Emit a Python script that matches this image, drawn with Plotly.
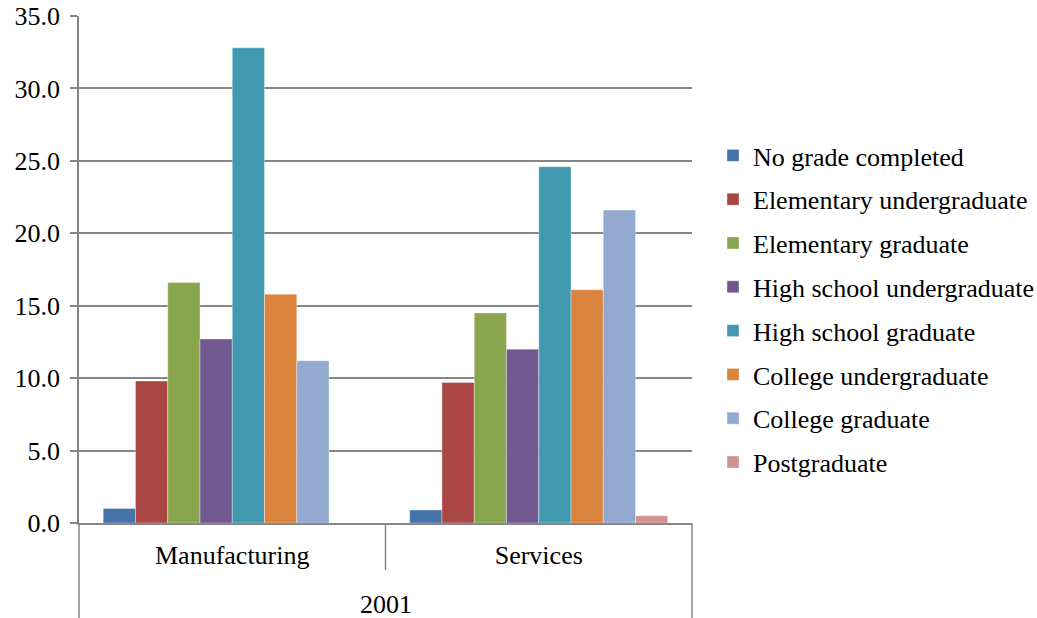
import plotly.graph_objects as go

categories = ["Manufacturing", "Services"]
group_label = "2001"
series_names = [
    "No grade completed",
    "Elementary undergraduate",
    "Elementary graduate",
    "High school undergraduate",
    "High school graduate",
    "College undergraduate",
    "College graduate",
    "Postgraduate",
]
manufacturing = [1.0, 9.8, 16.6, 12.7, 32.8, 15.8, 11.2, 0.0]
services = [0.9, 9.7, 14.5, 12.0, 24.6, 16.1, 21.6, 0.5]
colors = ["#4572A7", "#AA4643", "#89A54E", "#71588F", "#4198AF", "#DB843D", "#93A9CF", "#D19392"]
y_ticks = [0, 5, 10, 15, 20, 25, 30, 35]

FONT = "Liberation Serif, Times New Roman, serif"
AXIS_GRAY = "#868686"

W, H = 1037, 618
ML, MR, MT, MB = 79, 345, 16, 95
plot_h = H - MT - MB
plot_w = W - ML - MR

fig = go.Figure()
for i, name in enumerate(series_names):
    fig.add_trace(go.Bar(
        x=categories,
        y=[manufacturing[i], services[i]],
        name=name,
        legendgroup=name,
        marker=dict(color=colors[i], line=dict(width=0.6, color="rgba(255,255,255,0.6)")),
    ))

fig.update_layout(
    width=W, height=H,
    margin=dict(l=ML, r=MR, t=MT, b=MB, pad=0, autoexpand=False),
    paper_bgcolor="white", plot_bgcolor="white",
    barmode="group", bargap=0.158, bargroupgap=0,
    font=dict(family=FONT, size=26, color="black"),
    showlegend=True,
    legend=dict(
        x=(713 - ML) / plot_w, xanchor="left",
        y=(MT + plot_h - 132) / plot_h, yanchor="top",
        font=dict(family=FONT, size=26, color="black"),
        tracegroupgap=7,
        bgcolor="rgba(0,0,0,0)",
        borderwidth=0,
    ),
)

fig.update_yaxes(
    range=[0, 35], tickvals=y_ticks, tickformat=".1f",
    showgrid=True, gridcolor=AXIS_GRAY, gridwidth=1.5,
    showline=True, linecolor=AXIS_GRAY, linewidth=1.5,
    ticks="outside", ticklen=7, tickcolor=AXIS_GRAY, tickwidth=1.5,
    ticklabelstandoff=5,
    zeroline=False, automargin=False,
    tickfont=dict(family=FONT, size=26, color="black"),
)
fig.update_xaxes(
    type="category",
    showline=True, linecolor=AXIS_GRAY, linewidth=2,
    ticks="", showgrid=False,
    ticklabelstandoff=8, automargin=False,
    tickfont=dict(family=FONT, size=26, color="black"),
)

bottom = -MB / plot_h
mid_bottom = -(570 - (MT + plot_h)) / plot_h
line_style = dict(color=AXIS_GRAY, width=1.5)
fig.add_shape(type="line", xref="x domain", yref="paper", x0=0, x1=0, y0=0, y1=bottom, line=line_style)
fig.add_shape(type="line", xref="x domain", yref="paper", x0=1, x1=1, y0=0, y1=bottom, line=line_style)
fig.add_shape(type="line", xref="x domain", yref="paper", x0=0.5, x1=0.5, y0=0, y1=mid_bottom, line=line_style)

fig.add_annotation(
    text=group_label, xref="x domain", yref="paper", x=0.5,
    y=-(604 - (MT + plot_h)) / plot_h, yanchor="middle", showarrow=False,
    font=dict(family=FONT, size=26, color="black"),
)

fig.write_html("out.html")
